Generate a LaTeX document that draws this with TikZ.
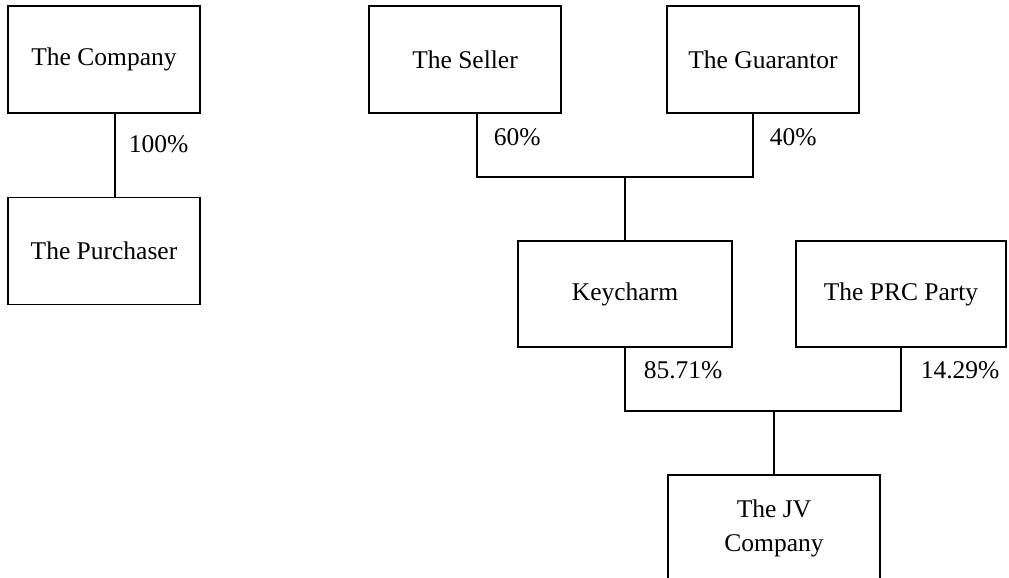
\documentclass[tikz,border=0pt]{standalone}
\usepackage{fontspec}
\setmainfont{Liberation Serif}
\begin{document}
\begin{tikzpicture}[x=1pt,y=-1pt,line width=1.5pt,
  box/.style={draw,minimum width=192pt,minimum height=107pt,inner sep=0pt,
    font=\fontsize{25.5}{34}\selectfont,align=center},
  pct/.style={anchor=west,inner sep=0pt,font=\fontsize{25.5}{34}\selectfont}]
\useasboundingbox (0,0) rectangle (1009,578);
\clip (0,0) rectangle (1009,578);
% left group
\node[box] (company) at (104,59.5) {The Company};
\node[box] (purchaser) at (104,251) {The Purchaser};
\draw ([xshift=11pt]company.south) -- ([xshift=11pt]purchaser.north);
\node[pct] (l100) at (128,144) {100\%};
% right group
\node[box] (seller) at (465,59.5) {The Seller};
\node[box] (guarantor) at (763,59.5) {The Guarantor};
\node[box,minimum width=214pt,minimum height=106pt] (keycharm) at (625,294) {Keycharm};
\node[box,minimum width=210pt,minimum height=106pt] (prc) at (901,294) {The PRC Party};
\node[box,minimum width=212pt,minimum height=107pt] (jv) at (774,528.5) {The JV\\Company};
\coordinate (j1) at (625,177);
\coordinate (j2) at (774,411);
\draw ([xshift=12pt]seller.south) |- (j1) -| ([xshift=-10pt]guarantor.south);
\draw (j1) -- (keycharm.north);
\draw (keycharm.south) |- (j2) -| (prc.south);
\draw (j2) -- (jv.north);
\node[pct] (l60) at (493,137) {60\%};
\node[pct] (l40) at (769,137) {40\%};
\node[pct] (l8571) at (643,370) {85.71\%};
\node[pct] (l1429) at (920,370) {14.29\%};
\end{tikzpicture}
\end{document}
